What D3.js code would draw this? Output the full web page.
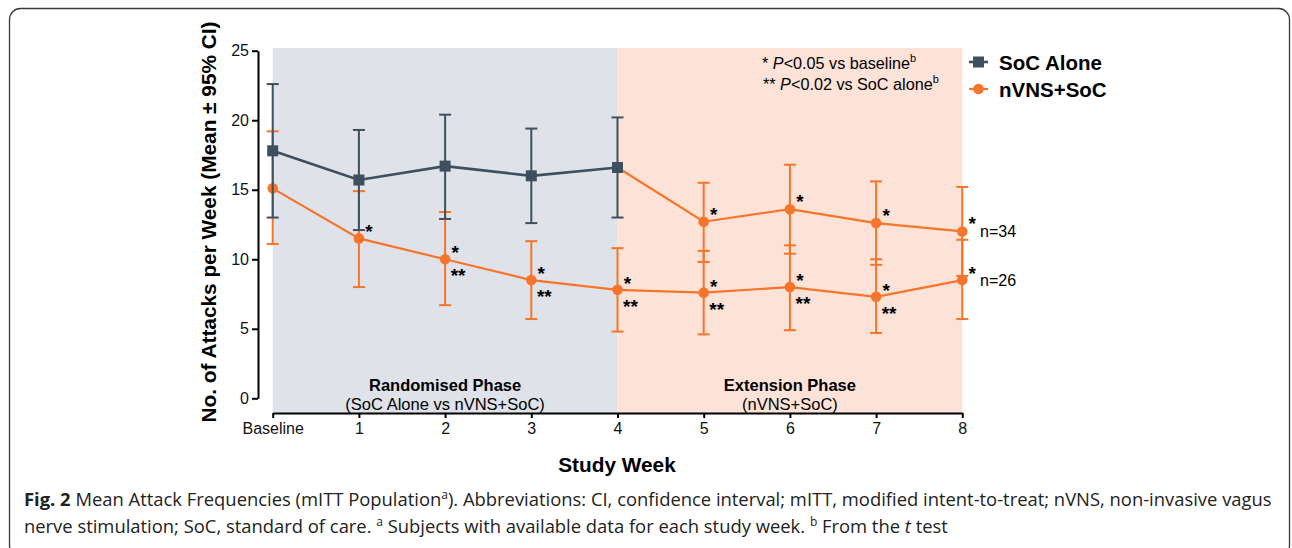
<!DOCTYPE html>
<html>
<head>
<meta charset="utf-8">
<script src="https://cdn.jsdelivr.net/npm/d3@7"></script>
<style>
  body { margin: 0; background: #fff; }
  svg text { font-family: "Liberation Sans", Arial, sans-serif; }
  .cap text, text.cap { font-family: "Open Sans", "Noto Sans", sans-serif; }
</style>
</head>
<body>
<div id="chart"></div>
<script>
var width = 1292;
var height = 548;

// data
const weeks = [0,1,2,3,4,5,6,7,8];
const weekLabels = ["Baseline","1","2","3","4","5","6","7","8"];

const socWeeks = [0,1,2,3,4];
const socMean = [17.8,15.7,16.7,16.0,16.6];
const socLo   = [13.0,12.1,12.9,12.6,13.0];
const socHi   = [22.6,19.3,20.4,19.4,20.2];

const nvnsMean = [15.1,11.5,10.0,8.5,7.8,7.6,8.0,7.3,8.5];
const nvnsLo   = [11.1,8.0,6.7,5.7,4.8,4.6,4.9,4.7,5.7];
const nvnsHi   = [19.2,14.9,13.4,11.3,10.8,10.6,11.0,10.0,11.4];

// SoC alone group switched to nVNS in the extension phase
const extWeeks = [4,5,6,7,8];
const extMean = [16.6,12.7,13.6,12.6,12.0];
const extLo   = [null,9.8,10.4,9.6,8.8];
const extHi   = [null,15.5,16.8,15.6,15.2];

const nvnsStarWeeks = [1,2,3,4,5,6,7,8];
const nvnsDoubleWeeks = [2,3,4,5,6,7];
const extStarWeeks = [5,6,7,8];

const yTicks = [0,5,10,15,20,25];

const slate = "#3e505e";
const orange = "#f7752a";

const x = d3.scaleLinear().domain([0,8]).range([272.7,962.3]);
const y = d3.scaleLinear().domain([0,25]).range([398.3,50.7]);

const svg = d3.select("#chart").append("svg")
    .attr("width", width).attr("height", height);

// outer frame
svg.append("rect")
    .attr("x",9.5).attr("y",8.5).attr("width",1280).attr("height",548)
    .attr("rx",11).attr("fill","none").attr("stroke","#3a3a3a").attr("stroke-width",1.3);

// phase shading
svg.append("rect").attr("x",x(0)).attr("y",48).attr("width",x(4)-x(0)).attr("height",413-48)
    .attr("fill","#dfe3e9");
svg.append("rect").attr("x",x(4)).attr("y",48).attr("width",x(8)-x(4)).attr("height",413-48)
    .attr("fill","#fde2d8");

// axes
const yAxis = svg.append("g")
    .attr("transform","translate(258,0)")
    .call(d3.axisLeft(y).tickValues(yTicks).tickSize(6).tickSizeOuter(0).tickPadding(3));
const xAxis = svg.append("g")
    .attr("transform","translate(0,413)")
    .call(d3.axisBottom(x).tickValues(weeks).tickFormat((d,i) => weekLabels[i]).tickSize(5).tickSizeOuter(0).tickPadding(5));
[yAxis,xAxis].forEach(g => {
    g.selectAll("path,line").attr("stroke","#000").attr("stroke-width",2);
    g.selectAll("text").attr("font-size",16).attr("fill","#111")
        .attr("font-family","Liberation Sans, Arial, sans-serif");
});

svg.append("text")
    .attr("transform","translate(216,222) rotate(-90)")
    .attr("text-anchor","middle").attr("font-weight","bold").attr("font-size",20.8)
    .text("No. of Attacks per Week (Mean \u00b1 95% CI)");

svg.append("text").attr("x",617).attr("y",472).attr("text-anchor","middle")
    .attr("font-weight","bold").attr("font-size",20.8).text("Study Week");

// phase labels
function phaseLabel(cx, t1, t2){
    svg.append("text").attr("x",cx).attr("y",391).attr("text-anchor","middle")
        .attr("font-weight","bold").attr("font-size",16.5).text(t1);
    svg.append("text").attr("x",cx).attr("y",410).attr("text-anchor","middle")
        .attr("font-size",16.5).text(t2);
}
phaseLabel(x(2), "Randomised Phase", "(SoC Alone vs nVNS+SoC)");
phaseLabel(x(6), "Extension Phase", "(nVNS+SoC)");

// error bars
function errorBars(ws, lo, hi, color, w){
    const g = svg.append("g").attr("stroke",color).attr("stroke-width",w);
    ws.forEach((wk,i) => {
        if (lo[i] == null) return;
        g.append("line").attr("x1",x(wk)).attr("x2",x(wk)).attr("y1",y(lo[i])).attr("y2",y(hi[i]));
        [lo[i],hi[i]].forEach(v => {
            g.append("line").attr("x1",x(wk)-6).attr("x2",x(wk)+6).attr("y1",y(v)).attr("y2",y(v));
        });
    });
}

const line = d3.line().x(d => x(d[0])).y(d => y(d[1]));

// nVNS+SoC groups
errorBars(weeks, nvnsLo, nvnsHi, orange, 2);
errorBars(extWeeks, extLo, extHi, orange, 2);
svg.append("path").datum(weeks.map((w,i) => [w,nvnsMean[i]]))
    .attr("d",line).attr("fill","none").attr("stroke",orange).attr("stroke-width",2.2);
svg.append("path").datum(extWeeks.map((w,i) => [w,extMean[i]]))
    .attr("d",line).attr("fill","none").attr("stroke",orange).attr("stroke-width",2.2);
svg.selectAll(".dotA").data(weeks).join("circle")
    .attr("cx",d => x(d)).attr("cy",(d,i) => y(nvnsMean[i])).attr("r",5.3).attr("fill",orange);
svg.selectAll(".dotB").data(extWeeks.slice(1)).join("circle")
    .attr("cx",d => x(d)).attr("cy",(d,i) => y(extMean[i+1])).attr("r",5.3).attr("fill",orange);

// SoC alone
errorBars(socWeeks, socLo, socHi, slate, 2);
svg.append("path").datum(socWeeks.map((w,i) => [w,socMean[i]]))
    .attr("d",line).attr("fill","none").attr("stroke",slate).attr("stroke-width",2.6);
svg.selectAll(".sq").data(socWeeks).join("rect")
    .attr("x",d => x(d)-5.5).attr("y",(d,i) => y(socMean[i])-5.5)
    .attr("width",11).attr("height",11).attr("fill",slate);

// significance marks
function stars(ws, means, allWeeks, txt, dx, dy){
    ws.forEach(wk => {
        const v = means[allWeeks.indexOf(wk)];
        svg.append("text").attr("x",x(wk)+dx).attr("y",y(v)+dy)
            .attr("text-anchor","middle").attr("font-size",19).attr("font-weight","bold").text(txt);
    });
}
stars(nvnsStarWeeks, nvnsMean, weeks, "*", 10, 0);
stars(nvnsDoubleWeeks, nvnsMean, weeks, "**", 13, 23);
stars(extStarWeeks, extMean, extWeeks, "*", 10, -1);

svg.append("text").attr("x",980).attr("y",y(extMean[4])+6).attr("font-size",16).text("n=34");
svg.append("text").attr("x",980).attr("y",y(nvnsMean[8])+6).attr("font-size",16).text("n=26");

// footnote keys
const k1 = svg.append("text").attr("x",762).attr("y",69).attr("font-size",16.2);
k1.append("tspan").text("* ");
k1.append("tspan").attr("font-style","italic").text("P");
k1.append("tspan").text("<0.05 vs baseline");
k1.append("tspan").attr("font-size",11).attr("dy",-7).text("b");
const k2 = svg.append("text").attr("x",763).attr("y",90).attr("font-size",16.2);
k2.append("tspan").text("** ");
k2.append("tspan").attr("font-style","italic").text("P");
k2.append("tspan").text("<0.02 vs SoC alone");
k2.append("tspan").attr("font-size",11).attr("dy",-7).text("b");

// legend
const leg = svg.append("g");
leg.append("line").attr("x1",969).attr("x2",988).attr("y1",62).attr("y2",62).attr("stroke",slate).attr("stroke-width",2.6);
leg.append("rect").attr("x",973).attr("y",56.5).attr("width",11).attr("height",11).attr("fill",slate);
leg.append("text").attr("x",999).attr("y",69.5).attr("font-size",20.5).attr("font-weight","bold").text("SoC Alone");
leg.append("line").attr("x1",969).attr("x2",988).attr("y1",89).attr("y2",89).attr("stroke",orange).attr("stroke-width",2.2);
leg.append("circle").attr("cx",978.5).attr("cy",89).attr("r",5.3).attr("fill",orange);
leg.append("text").attr("x",999).attr("y",96.5).attr("font-size",20.5).attr("font-weight","bold").text("nVNS+SoC");

// caption
const c1 = svg.append("text").attr("class","cap").attr("x",24).attr("y",506).attr("font-size",18.4).attr("fill","#222");
c1.append("tspan").attr("font-weight","bold").text("Fig. 2");
c1.append("tspan").text(" Mean Attack Frequencies (mITT Population");
c1.append("tspan").attr("font-size",12).attr("dy",-7).text("a");
c1.append("tspan").attr("dy",7).text("). Abbreviations: CI, confidence interval; mITT, modified intent-to-treat; nVNS, non-invasive vagus");
const c2 = svg.append("text").attr("class","cap").attr("x",24).attr("y",533).attr("font-size",18.4).attr("fill","#222");
c2.append("tspan").text("nerve stimulation; SoC, standard of care. ");
c2.append("tspan").attr("font-size",12).attr("dy",-7).text("a");
c2.append("tspan").attr("dy",7).text(" Subjects with available data for each study week. ");
c2.append("tspan").attr("font-size",12).attr("dy",-7).text("b");
c2.append("tspan").attr("dy",7).text(" From the ");
c2.append("tspan").attr("font-style","italic").text("t");
c2.append("tspan").text(" test");
</script>
</body>
</html>
